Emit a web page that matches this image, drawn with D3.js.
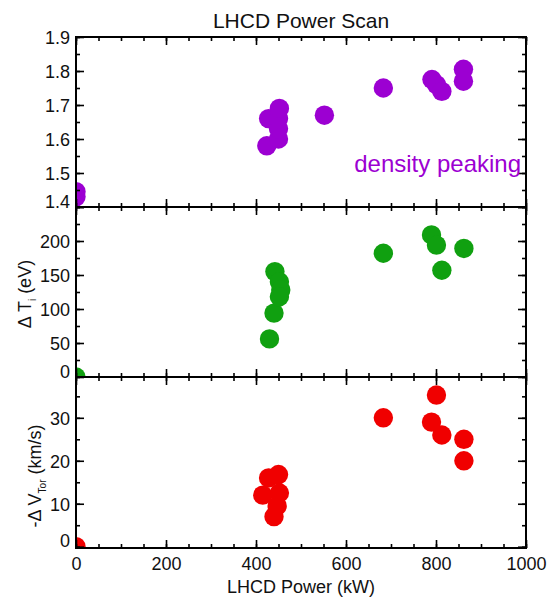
<!DOCTYPE html>
<html>
<head>
<meta charset="utf-8">
<script src="https://cdn.jsdelivr.net/npm/d3@7"></script>
<style>
  body { margin: 0; background: #fff; }
  text { font-family: "Liberation Sans", Arial, sans-serif; fill: #111; }
  .axis line { stroke: #000; stroke-width: 1.6px; }
  .axis path { display: none; }
  .axis text { font-size: 18px; }
</style>
</head>
<body>
<div id="chart"></div>
<script>
// LHCD power (kW) and measured quantity for each panel
var powerDen = [0, 0, 424, 428, 450, 450, 450, 452, 552, 683, 791, 801, 813, 861, 861];
var density  = [1.445, 1.43, 1.58, 1.66, 1.60, 1.63, 1.66, 1.69, 1.67, 1.75, 1.775, 1.76, 1.74, 1.805, 1.77];

var powerTi = [0, 430, 440, 442, 452, 455, 452, 683, 790, 801, 813, 862];
var deltaTi = [0, 56, 94, 155, 140, 128, 118, 182, 209, 194, 157, 189];

var powerV = [0, 415, 428, 450, 452, 447, 440, 683, 790, 801, 813, 862, 862];
var deltaV = [0, 12, 16, 16.8, 12.5, 9.5, 7, 30, 29, 35.3, 26, 25, 20];

var xMajor = [0, 200, 400, 600, 800, 1000];
var denTicks = [1.4, 1.5, 1.6, 1.7, 1.8, 1.9];
var tiTicks = [0, 50, 100, 150, 200];
var vTicks = [0, 10, 20, 30];

var width = 548, height = 599;
var left = 76, right = 526;

var svg = d3.select("#chart").append("svg")
    .attr("width", width).attr("height", height);

var x = d3.scaleLinear().domain([0, 1000]).range([left, right]);

var panels = [
  { id: "den", top: 37, bottom: 207, domain: [1.4, 1.9], major: denTicks, step: 0.05, fmt: d3.format(".1f"),
    xs: powerDen, ys: density, color: "#9c00d2" },
  { id: "ti", top: 207, bottom: 377, domain: [0, 250], major: tiTicks.concat([250]), step: 25, fmt: d3.format("d"),
    xs: powerTi, ys: deltaTi, color: "#10a010", noLabel: [250] },
  { id: "v", top: 377, bottom: 548, domain: [-0.3, 39.5], major: vTicks, step: 5, fmt: d3.format("d"),
    xs: powerV, ys: deltaV, color: "#f00000" }
];

var xMinor = d3.range(0, 1001, 50);

panels.forEach(function(p, i) {
  var y = d3.scaleLinear().domain(p.domain).range([p.bottom, p.top]);
  var minor = d3.range(Math.ceil(p.domain[0] / p.step) * p.step, p.domain[1] + 1e-9, p.step);

  var g = svg.append("g");

  g.append("clipPath").attr("id", "clip-" + p.id)
    .append("rect").attr("x", left).attr("y", p.top)
      .attr("width", right - left).attr("height", p.bottom - p.top);

  g.append("g").attr("clip-path", "url(#clip-" + p.id + ")")
    .selectAll("circle")
    .data(p.xs)
    .enter().append("circle")
      .attr("cx", function(d) { return x(d); })
      .attr("cy", function(d, j) { return y(p.ys[j]); })
      .attr("r", 9.7)
      .attr("fill", p.color);

  // y ticks, inward on both sides
  g.append("g").attr("class", "axis").attr("transform", "translate(" + left + ",0)")
    .call(d3.axisLeft(y).tickValues(minor).tickSize(-4).tickFormat(""));
  var yl = g.append("g").attr("class", "axis").attr("transform", "translate(" + left + ",0)")
    .call(d3.axisLeft(y).tickValues(p.major).tickSize(-8).tickPadding(6)
      .tickFormat(function(d) { return (p.noLabel && p.noLabel.indexOf(d) >= 0) ? "" : p.fmt(d); }));
  yl.selectAll(".tick text")
    .attr("dy", function(d) { return d === p.domain[0] || (i > 0 && d === 0) ? "0" : "0.35em"; });
  g.append("g").attr("class", "axis").attr("transform", "translate(" + right + ",0)")
    .call(d3.axisRight(y).tickValues(minor).tickSize(-4).tickFormat(""));
  g.append("g").attr("class", "axis").attr("transform", "translate(" + right + ",0)")
    .call(d3.axisRight(y).tickValues(p.major).tickSize(-8).tickFormat(""));

  // x ticks, inward on top and bottom
  g.append("g").attr("class", "axis").attr("transform", "translate(0," + p.top + ")")
    .call(d3.axisTop(x).tickValues(xMinor).tickSize(-4).tickFormat(""));
  g.append("g").attr("class", "axis").attr("transform", "translate(0," + p.top + ")")
    .call(d3.axisTop(x).tickValues(xMajor).tickSize(-8).tickFormat(""));
  g.append("g").attr("class", "axis").attr("transform", "translate(0," + p.bottom + ")")
    .call(d3.axisBottom(x).tickValues(xMinor).tickSize(-4).tickFormat(""));
  g.append("g").attr("class", "axis").attr("transform", "translate(0," + p.bottom + ")")
    .call(d3.axisBottom(x).tickValues(xMajor).tickSize(-8).tickPadding(9)
      .tickFormat(i === panels.length - 1 ? d3.format("d") : ""));

  g.append("rect")
    .attr("x", left).attr("y", p.top)
    .attr("width", right - left).attr("height", p.bottom - p.top)
    .attr("fill", "none").attr("stroke", "#000").attr("stroke-width", 2);
});

svg.append("text")
  .attr("x", (left + right) / 2).attr("y", 28)
  .attr("text-anchor", "middle").style("font-size", "21px")
  .text("LHCD Power Scan");

svg.append("text")
  .attr("x", 521).attr("y", 172)
  .attr("text-anchor", "end").style("font-size", "24px").style("fill", "#9c00d2")
  .text("density peaking");

svg.append("text")
  .attr("x", (left + right) / 2).attr("y", 593)
  .attr("text-anchor", "middle").style("font-size", "18px")
  .text("LHCD Power (kW)");

var yl1 = svg.append("text")
  .attr("transform", "translate(31,294) rotate(-90)")
  .attr("text-anchor", "middle").style("font-size", "18px");
yl1.append("tspan").text("\u0394 T");
yl1.append("tspan").attr("dy", 5).style("font-size", "10px").text("i");
yl1.append("tspan").attr("dy", -5).text(" (eV)");

var yl2 = svg.append("text")
  .attr("transform", "translate(41,476) rotate(-90)")
  .attr("text-anchor", "middle").style("font-size", "18px");
yl2.append("tspan").text("-\u0394 V");
yl2.append("tspan").attr("dy", 5).style("font-size", "10px").text("Tor");
yl2.append("tspan").attr("dy", -5).text(" (km/s)");
</script>
</body>
</html>
